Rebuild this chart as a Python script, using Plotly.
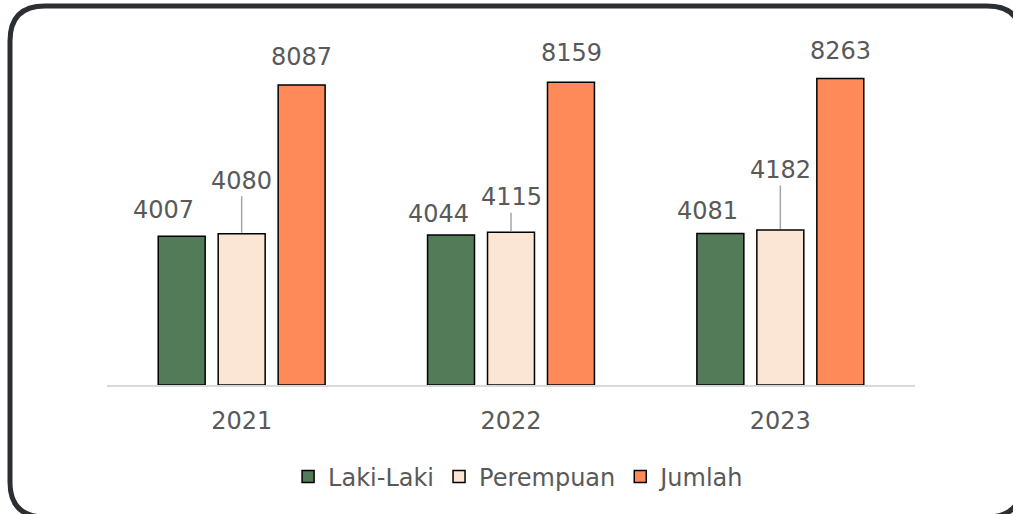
import plotly.graph_objects as go

years = ["2021", "2022", "2023"]
laki = [4007, 4044, 4081]
perempuan = [4080, 4115, 4182]
jumlah = [8087, 8159, 8263]
series_names = ["Laki-Laki", "Perempuan", "Jumlah"]
colors = ["#547B58", "#FBE5D5", "#FF8A59"]

W, H = 1013, 514
ML, MR, MT, MB = 107, 98, 20, 129
PW, PH = W - ML - MR, H - MT - MB
YMAX = 9840
FONT = "DejaVu Sans"
TXT = "#595959"

fig = go.Figure()
for name, vals, col in zip(series_names, [laki, perempuan, jumlah], colors):
    fig.add_trace(go.Bar(x=years, y=vals, name=name, marker=dict(color=col, line=dict(color="#000000", width=1.5))))

# label offsets (pixels) per series / year: (dx, dy)
off_laki = [(-18, -26), (-13, -21), (-13, -23)]
off_per = [(0, -53), (0, -35), (0, -60)]
off_jum = [(0, -28), (0, -29), (0, -28)]
slot = 60
for i, y in enumerate(years):
    for vals, offs, shift, lead in [(laki, off_laki, -slot, False), (perempuan, off_per, 0, True), (jumlah, off_jum, slot, False)]:
        dx, dy = offs[i]
        fig.add_annotation(x=i, y=vals[i], text=str(vals[i]), xref="x", yref="y",
                           showarrow=True, arrowhead=0, arrowwidth=1.5,
                           arrowcolor="#A6A6A6" if lead else "rgba(0,0,0,0)",
                           ax=dx, ay=dy, xshift=shift, standoff=1,
                           font=dict(family=FONT, size=24, color=TXT))

def px(x):
    return (x - ML) / PW
def py(y):
    return (H - MB - y) / PH

x0, x1, y0, y1, r = 10, 1022, 6, 517, 35
path = (f"M {px(x0+r)},{py(y0)} L {px(x1-r)},{py(y0)} Q {px(x1)},{py(y0)} {px(x1)},{py(y0+r)} "
        f"L {px(x1)},{py(y1-r)} Q {px(x1)},{py(y1)} {px(x1-r)},{py(y1)} "
        f"L {px(x0+r)},{py(y1)} Q {px(x0)},{py(y1)} {px(x0)},{py(y1-r)} "
        f"L {px(x0)},{py(y0+r)} Q {px(x0)},{py(y0)} {px(x0+r)},{py(y0)} Z")
fig.add_shape(type="path", path=path, xref="paper", yref="paper", line=dict(color="#2B2F33", width=5))

fig.update_layout(
    width=W, height=H, margin=dict(l=ML, r=MR, t=MT, b=MB, autoexpand=False),
    paper_bgcolor="white", plot_bgcolor="white",
    barmode="group", bargap=0.332, bargroupgap=0.217,
    font=dict(family=FONT, size=24, color=TXT),
    showlegend=True,
    legend=dict(orientation="h", x=0.51, xanchor="center", y=py(477), yanchor="middle",
                itemwidth=30, font=dict(family=FONT, size=24, color=TXT)),
    xaxis=dict(type="category", range=[-0.5, 2.5], showline=True, linecolor="#D9D9D9", linewidth=1.5,
               ticks="", ticklabelstandoff=13, showgrid=False, zeroline=False, automargin=False,
               tickfont=dict(family=FONT, size=24, color=TXT)),
    yaxis=dict(range=[0, YMAX], visible=False, showgrid=False, zeroline=False),
)
fig.write_html("out.html", config={"displayModeBar": False},
               post_script="document.body.style.margin='0';")
